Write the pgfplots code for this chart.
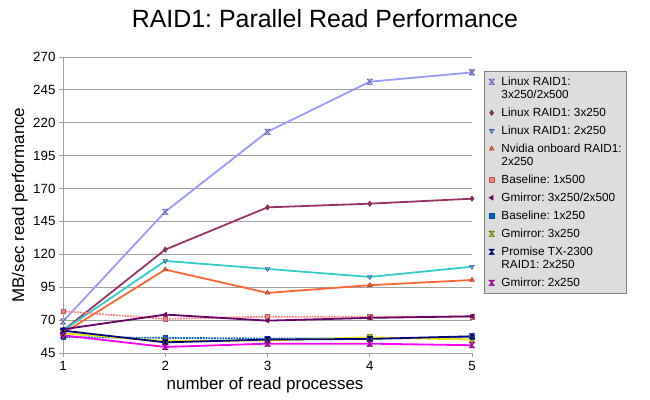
\documentclass[border=0pt]{standalone}
\usepackage{fontspec}
\setmainfont{Liberation Sans}
\usepackage{pgfplots}
\pgfplotsset{compat=1.18}
\definecolor{cA}{HTML}{9999FF}
\definecolor{cB}{HTML}{993366}
\definecolor{cC}{HTML}{33CCCC}
\definecolor{cD}{HTML}{FF6633}
\definecolor{cE}{HTML}{FF8080}
\definecolor{cF}{HTML}{660066}
\definecolor{cG}{HTML}{0066CC}
\definecolor{cH}{HTML}{E6E600}
\definecolor{cI}{HTML}{000080}
\definecolor{cJ}{HTML}{FF00FF}
\definecolor{gridc}{HTML}{A0A0A0}
\definecolor{legbg}{HTML}{DDDDDD}
\pgfdeclareplotmark{hourglass}{%
  \pgfpathmoveto{\pgfqpoint{-\pgfplotmarksize}{\pgfplotmarksize}}%
  \pgfpathlineto{\pgfqpoint{\pgfplotmarksize}{\pgfplotmarksize}}%
  \pgfpathlineto{\pgfqpoint{-\pgfplotmarksize}{-\pgfplotmarksize}}%
  \pgfpathlineto{\pgfqpoint{\pgfplotmarksize}{-\pgfplotmarksize}}%
  \pgfpathclose
  \pgfusepathqfillstroke}
\begin{document}
\frenchspacing
\begin{tikzpicture}
\path[use as bounding box] (0,0) rectangle (650bp,400bp);
\node[anchor=base,font=\fontsize{25}{30}\selectfont] at (325bp,372bp) {RAID1: Parallel Read Performance};
\begin{axis}[
  at={(63bp,47bp)}, anchor=south west,
  scale only axis, width=409bp, height=296bp,
  xmin=1, xmax=5, ymin=45, ymax=270,
  xtick={1,2,3,4,5}, ytick={45,70,...,270},
  axis lines=left, axis line style={draw=gridc,-},
  ymajorgrids, grid style={draw=gridc,line width=0.8pt},
  tick align=outside, major tick length=4bp, tick style={draw=gridc,line width=0.8pt},
  /pgf/number format/assume math mode=true,
  ticklabel style={font=\fontsize{13.4}{15}\selectfont},
  xticklabel style={yshift=-1bp},
  xlabel={number of read processes},
  ylabel={MB/sec read performance},
  every axis x label/.style={at={(axis description cs:0.494,-0.108)},anchor=center,font=\fontsize{17}{20}\selectfont},
  every axis y label/.style={at={(axis description cs:-0.106,0.5)},rotate=90,anchor=center,font=\fontsize{17}{20}\selectfont},
  clip=false,
  every axis plot/.append style={line width=1.8bp, mark size=2.6bp},
  legend image code/.code={\path[draw=none,fill=none] (0bp,0bp) -- (12bp,0bp); \draw[#1] plot[only marks] coordinates {(4bp,0bp)};},
  legend style={at={(axis description cs:1.030,0.954)}, anchor=north west,
    fill=legbg, draw=gray, line width=0.8pt,
    font=\fontsize{11.8}{13}\selectfont,
    nodes={align=left, inner sep=1.8bp}, row sep=4.4bp,
    inner xsep=3bp, inner ysep=4bp},
  legend cell align=left,
]
\addplot[color=cA, mark=hourglass, mark options={fill=cA!60, draw=cI!70, line width=0.6pt}, legend image post style={yshift=6.5bp}] coordinates {(1,69) (2,152.4) (3,213.2) (4,251.2) (5,258.3)};
\addlegendentry{Linux RAID1:\\3x250/2x500}
\addplot[color=cB, mark=diamond*, mark options={fill=cB, draw=cB!70!black, line width=0.6pt}] coordinates {(1,62) (2,123.6) (3,155.7) (4,158.5) (5,162.3)};
\addlegendentry{Linux RAID1: 3x250}
\addplot[color=cC, mark=triangle*, mark options={rotate=180, fill=cC, draw=cI!70, line width=0.6pt}] coordinates {(1,62) (2,115) (3,108.9) (4,102.8) (5,110.6)};
\addlegendentry{Linux RAID1: 2x250}
\addplot[color=cD, mark=triangle*, mark options={fill=cD, draw=cD!60!black, line width=0.6pt}, legend image post style={yshift=6.5bp}] coordinates {(1,60) (2,108.4) (3,90.7) (4,96.5) (5,100.5)};
\addlegendentry{Nvidia onboard RAID1:\\2x250}
\addplot[color=cE, densely dotted, mark=square*, mark options={solid, fill=cE, draw=cE!70!black, line width=0.6pt, mark size=2.2bp}] coordinates {(1,76.7) (2,70.9) (3,72.6) (4,72.6) (5,72.6)};
\addlegendentry{Baseline: 1x500}
\addplot[color=cF, mark=triangle*, mark options={rotate=90, fill=cF, draw=cF, line width=0.6pt}] coordinates {(1,63) (2,74.2) (3,69.6) (4,71.7) (5,72.9)};
\addlegendentry{Gmirror: 3x250/2x500}
\addplot[color=cG, densely dotted, mark=square*, mark options={solid, fill=cG, draw=cG!70!black, line width=0.6pt, mark size=2.2bp}] coordinates {(1,57) (2,56.5) (3,56) (4,56) (5,57)};
\addlegendentry{Baseline: 1x250}
\addplot[color=cH, mark=hourglass, mark options={fill=cH, draw=black!60!cH, line width=0.6pt}] coordinates {(1,60) (2,54) (3,54.6) (4,56.9) (5,55.2)};
\addlegendentry{Gmirror: 3x250}
\addplot[color=cI, mark=hourglass, mark options={fill=cI, draw=cI, line width=0.6pt}, legend image post style={yshift=6.5bp}] coordinates {(1,62) (2,53.1) (3,55.2) (4,55.7) (5,57.7)};
\addlegendentry{Promise TX-2300\\RAID1: 2x250}
\addplot[color=cJ, mark=hourglass, mark options={fill=cJ, draw=cF, line width=0.6pt}] coordinates {(1,58.4) (2,49.6) (3,52.1) (4,52.1) (5,50.9)};
\addlegendentry{Gmirror: 2x250}
\end{axis}
\end{tikzpicture}
\end{document}
